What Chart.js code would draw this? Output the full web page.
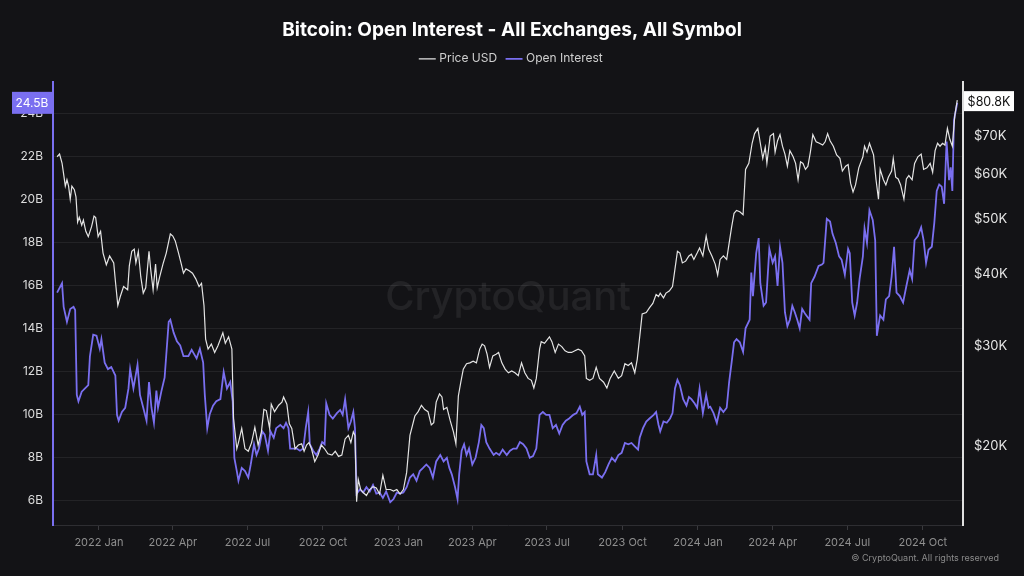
<!DOCTYPE html>
<html>
<head>
<meta charset="utf-8">
<script src="https://cdn.jsdelivr.net/npm/chart.js@4.4.1/dist/chart.umd.min.js"></script>
<style>
  html, body { margin: 0; padding: 0; background: #131316; }
  #wrap { width: 1024px; height: 576px; }
</style>
</head>
<body>
<div id="wrap"><canvas id="oiChart" width="1024" height="576"></canvas></div>
<script>
// Bitcoin open interest vs price
const startDate = "2021-11-10"

// Open interest, billions USD (day offset from startDate)
const oiDays = [1, 7, 9, 13, 17, 21, 23, 25, 27, 31, 35, 39, 41, 45, 49, 53, 55, 59, 63, 67, 72, 74, 76, 80, 84, 88, 90, 94, 99, 102, 106, 110, 113, 116, 119, 122, 124, 128, 132, 137, 139, 143, 147, 151, 155, 161, 165, 171, 175, 179, 181, 184, 187, 191, 195, 200, 204, 208, 212, 215,
  217, 220, 222, 226, 230, 234, 237, 241, 244, 247, 251, 254, 258, 261, 265, 268, 273, 277, 280, 283, 285, 289, 293, 297, 301, 304, 307, 309, 313, 317, 321, 324, 327, 329, 333, 337, 342, 346, 349, 352, 356, 359, 362, 364, 366, 370, 374, 378, 382, 386, 390, 394, 398, 402, 407, 411, 415, 419, 423, 427, 431,
  435, 439, 443, 447, 451, 455, 459, 463, 468, 472, 476, 479, 482, 486, 489, 491, 494, 497, 500, 503, 507, 511, 515, 518, 521, 524, 528, 533, 536, 540, 544, 549, 553, 557, 561, 565, 569, 573, 577, 581, 585, 589, 593, 597, 601, 605, 609, 613, 617, 621, 625, 630, 634, 638, 641, 644, 646, 650,
  654, 658, 660, 665, 669, 673, 677, 681, 685, 689, 693, 697, 701, 705, 709, 711, 715, 719, 723, 728, 731, 734, 736, 740, 744, 748, 751, 754, 757, 760, 764, 768, 771, 774, 778, 781, 784, 788, 792, 795, 797, 801, 805, 809, 813, 817, 820, 823, 826, 829, 833, 837, 840, 845, 847, 849, 853, 856, 858, 862, 865, 869,
  873, 876, 879, 882, 885, 888, 891, 894, 897, 900, 903, 906, 909, 913, 918, 920, 924, 929, 933, 935, 939, 943, 946, 950, 954, 957, 961, 965, 967, 970, 973, 976, 979, 983, 985, 988, 991, 995, 998, 1000, 1004, 1008, 1011, 1015, 1018, 1021, 1024, 1028, 1032, 1036, 1040, 1043, 1046, 1050, 1054, 1057, 1060, 1063, 1067, 1070, 1073, 1076, 1079, 1082, 1085, 1088, 1090, 1092, 1094, 1096, 1098]
const oiValues = [15.66, 16.1, 15.0, 14.3, 14.9, 15.0, 14.85, 10.9, 10.6, 11.05, 11.2, 11.35, 12.7, 13.7, 13.65, 13.05, 13.5, 12.4, 12.1, 12.2, 11.8, 9.97, 9.7, 10.1, 10.3, 11.2, 12.1, 11.2, 12.3, 10.9, 10.3, 9.7, 11.5, 10.3, 9.6, 11.1, 10.3, 11.05, 11.7, 14.3, 14.4, 13.8, 13.4, 13.2, 12.7, 12.7, 13.0, 12.6, 13.05, 12.4, 10.9, 9.35, 10.0, 10.4, 10.6, 10.7, 11.97, 11.2, 11.5, 10.6,
  7.97, 7.35, 6.9, 7.5, 7.35, 7.05, 7.66, 8.6, 8.1, 8.4, 9.2, 9.05, 8.3, 9.2, 8.9, 9.35, 9.5, 9.35, 9.6, 9.35, 8.4, 8.4, 8.4, 8.3, 8.4, 9.35, 10.1, 8.6, 8.3, 8.1, 8.4, 8.7, 8.6, 10.5, 9.97, 9.8, 10.05, 10.2, 9.97, 10.7, 9.35, 9.66, 10.1, 9.35, 6.3, 6.5, 6.35, 6.6, 6.4, 6.7, 6.3, 6.35, 6.1, 6.4, 5.9, 6.05, 6.35, 6.3, 6.35, 6.6, 7.05,
  7.2, 6.9, 7.35, 7.5, 7.66, 7.5, 7.05, 7.8, 8.1, 7.8, 7.97, 7.5, 7.2, 6.6, 6.05, 7.2, 8.3, 8.6, 8.1, 8.4, 7.66, 7.97, 8.7, 9.5, 9.35, 8.7, 8.4, 8.1, 8.2, 8.1, 8.35, 8.1, 8.3, 8.4, 8.4, 8.7, 8.6, 8.4, 7.97, 8.05, 8.4, 9.97, 10.1, 9.97, 9.97, 9.35, 9.5, 9.1, 9.5, 9.7, 9.8, 9.97, 10.05, 10.35, 9.97, 10.1, 7.8, 7.2,
  7.2, 8.1, 7.2, 7.05, 7.3, 7.66, 7.97, 7.8, 8.1, 8.2, 8.66, 8.6, 8.66, 8.5, 8.35, 8.9, 9.35, 9.66, 9.8, 9.97, 10.1, 9.5, 9.2, 9.66, 9.6, 9.8, 10.05, 11.2, 11.6, 11.35, 10.7, 10.4, 10.8, 10.7, 10.5, 10.3, 11.2, 10.05, 10.9, 10.3, 10.35, 10.05, 9.6, 10.3, 10.1, 10.3, 11.5, 12.4, 13.35, 13.5, 13.35, 12.9, 14.0, 14.4, 16.6, 15.5, 17.5, 18.2, 16.1, 15.05, 15.2, 17.7,
  17.05, 17.35, 15.97, 17.8, 17.05, 14.75, 14.1, 14.4, 15.05, 14.75, 14.4, 14.0, 14.9, 14.65, 14.4, 16.1, 16.4, 16.9, 16.97, 17.05, 19.1, 18.97, 18.4, 17.97, 17.35, 17.2, 16.5, 17.7, 17.5, 15.2, 14.6, 15.2, 16.3, 17.35, 18.66, 17.97, 19.5, 19.05, 18.1, 13.65, 14.6, 14.4, 15.35, 15.5, 16.4, 17.8, 15.66, 15.5, 15.2, 15.97, 16.7, 16.3, 18.1, 18.3, 18.7, 18.1, 17.05, 17.66, 17.8, 18.9, 20.4, 20.7, 20.6, 19.8, 22.7, 20.9, 21.5, 20.4, 23.7, 24.1, 24.5]

// BTC price, thousands USD
const priceDays = [1, 4, 7, 9, 11, 13, 15, 17, 19, 22, 24, 26, 28, 31, 33, 36, 39, 43, 46, 48, 51, 54, 57, 61, 65, 70, 72, 75, 78, 82, 87, 89, 92, 95, 97, 100, 103, 106, 109, 113, 115, 118, 121, 123, 126, 130, 134, 139, 142, 145, 149, 152, 155, 158, 162, 166, 170, 174, 177, 180, 182, 185, 189, 193, 197, 203, 206, 210, 214,
  216, 220, 222, 226, 230, 234, 238, 242, 246, 250, 253, 256, 260, 262, 266, 271, 275, 277, 281, 284, 287, 291, 295, 299, 302, 305, 308, 311, 315, 319, 323, 327, 331, 336, 340, 344, 348, 352, 356, 359, 362, 364, 366, 368, 371, 374, 378, 382, 386, 390, 394, 398, 402, 407, 411, 415, 419, 423, 427, 431,
  437, 441, 445, 449, 453, 457, 460, 463, 467, 470, 472, 476, 480, 484, 487, 490, 493, 496, 500, 504, 508, 512, 516, 519, 522, 525, 528, 532, 536, 539, 543, 547, 551, 555, 559, 563, 567, 571, 575, 579, 582, 585, 589, 591, 595, 601, 604, 608, 612, 616, 620, 624, 628, 632, 636, 640, 644, 646, 650,
  654, 658, 662, 667, 671, 675, 680, 685, 689, 693, 697, 701, 705, 708, 711, 714, 719, 723, 727, 731, 734, 736, 740, 743, 747, 751, 754, 757, 760, 763, 767, 771, 774, 777, 781, 784, 788, 792, 795, 799, 803, 806, 809, 813, 817, 820, 823, 826, 829, 833, 837, 840, 844, 848, 851, 855, 858, 861, 864, 866, 870,
  874, 876, 879, 882, 885, 888, 891, 894, 898, 901, 904, 907, 910, 913, 916, 919, 922, 926, 930, 934, 937, 940, 943, 947, 951, 955, 958, 962, 965, 968, 971, 974, 978, 983, 985, 988, 991, 996, 999, 1002, 1004, 1008, 1011, 1014, 1018, 1020, 1023, 1026, 1029, 1033, 1036, 1039, 1043, 1046, 1050, 1054, 1057, 1061, 1065, 1068, 1071, 1074, 1077, 1080, 1083, 1086, 1089, 1092, 1095, 1098]
const priceValues = [64.3, 65.0, 62.7, 59.9, 57.1, 58.6, 57.1, 54.2, 57.1, 56.3, 54.7, 49.4, 50.4, 48.8, 49.8, 47.6, 46.6, 48.5, 50.6, 50.3, 46.6, 47.6, 43.6, 41.6, 43.1, 41.9, 39.0, 35.3, 36.6, 38.1, 37.6, 41.4, 43.9, 44.3, 41.9, 43.9, 39.6, 37.1, 37.9, 43.9, 40.9, 37.6, 41.7, 37.9, 39.6, 41.7, 43.6, 47.1, 46.7, 45.8, 43.6, 41.9, 40.2, 40.9, 40.6, 40.2, 39.3, 38.1, 38.6, 35.3, 30.8, 29.6, 30.2, 29.2, 30.0, 31.6, 30.3, 31.1, 29.6,
  22.4, 19.8, 20.3, 21.5, 19.8, 19.6, 20.3, 21.6, 20.1, 21.2, 23.2, 23.1, 21.5, 23.7, 23.0, 23.6, 23.9, 24.4, 23.7, 21.9, 21.5, 19.8, 20.1, 20.2, 19.6, 20.1, 20.3, 19.8, 18.8, 19.3, 20.1, 19.8, 19.4, 19.3, 19.6, 19.2, 19.3, 20.6, 20.9, 20.3, 21.2, 20.9, 16.0, 17.5, 16.8, 16.6, 16.4, 16.8, 17.0, 16.9, 16.5, 17.8, 16.8, 16.8, 16.7, 16.8, 16.5, 16.8, 18.0, 20.9,
  22.6, 23.0, 23.6, 23.2, 23.0, 21.8, 22.0, 23.9, 24.7, 24.4, 23.2, 23.4, 22.2, 21.2, 20.2, 24.5, 25.9, 27.3, 27.9, 28.0, 28.2, 28.0, 29.6, 30.2, 30.0, 29.0, 27.5, 28.8, 29.0, 29.2, 28.0, 27.3, 26.9, 27.1, 26.9, 26.6, 28.0, 26.9, 26.3, 26.1, 25.3, 26.3, 29.6, 30.5, 30.3, 31.1, 30.5, 29.2, 30.2, 29.9, 29.4, 29.2, 29.2, 29.4, 29.6, 29.4, 28.8, 26.3, 26.1,
  26.3, 27.5, 26.3, 25.9, 25.3, 26.3, 27.1, 26.3, 26.6, 27.9, 27.7, 28.0, 26.9, 28.4, 31.1, 34.1, 34.3, 35.0, 35.6, 36.9, 36.6, 37.1, 36.4, 37.1, 37.4, 38.1, 40.9, 43.9, 43.6, 41.9, 42.2, 43.1, 43.4, 42.5, 43.6, 44.5, 43.1, 46.7, 44.3, 43.1, 41.7, 39.9, 42.5, 43.1, 42.5, 45.4, 48.4, 51.2, 51.8, 51.5, 50.9, 61.1, 62.6, 67.9, 70.6, 72.1, 67.9, 63.9, 66.8, 62.6, 69.9,
  70.6, 65.5, 68.6, 70.3, 67.1, 65.0, 61.9, 65.9, 64.3, 62.6, 58.6, 63.0, 62.6, 61.1, 61.9, 65.5, 70.3, 68.3, 67.9, 67.4, 68.3, 70.6, 68.6, 67.1, 64.8, 63.9, 60.7, 61.9, 62.3, 57.8, 55.8, 57.4, 61.5, 64.3, 67.1, 65.5, 67.9, 64.8, 58.6, 54.2, 61.1, 58.6, 57.4, 59.2, 60.7, 63.9, 59.2, 58.8, 57.4, 54.2, 58.8, 59.6, 58.6, 62.6, 64.3, 65.0, 61.1, 61.5, 62.6, 60.4, 65.9, 67.9, 67.1, 67.9, 67.4, 72.1, 69.0, 67.1, 75.9, 80.8]

const tickDates = ["2022-01-01", "2022-04-01", "2022-07-01", "2022-10-01", "2023-01-01", "2023-04-01", "2023-07-01", "2023-10-01", "2024-01-01", "2024-04-01", "2024-07-01", "2024-10-01"]
const tickLabels = ["2022 Jan", "2022 Apr", "2022 Jul", "2022 Oct", "2023 Jan", "2023 Apr", "2023 Jul", "2023 Oct", "2024 Jan", "2024 Apr", "2024 Jul", "2024 Oct"]
const oiTicks = [6, 8, 10, 12, 14, 16, 18, 20, 22, 24]
const priceTicks = [20, 30, 40, 50, 60, 70]

const OI_COLOR = "#7a6ff0"
const PRICE_COLOR = "#e4e4e4"

function dayOffset(dateStr) {
  return (Date.parse(dateStr) - Date.parse(startDate)) / 86400000
}

function toPoints(days, values) {
  return days.map((d, i) => ({ x: d, y: values[i] }))
}

const tickDays = tickDates.map(dayOffset)

// watermark, last-value badges and footer
const decorPlugin = {
  id: "decor",
  beforeInit(chart) {
    const fit = chart.legend.fit
    chart.legend.fit = function () {
      fit.bind(chart.legend)()
      this.height += 7
    }
  },
  beforeDatasetsDraw(chart) {
    const { ctx, chartArea } = chart
    ctx.save()
    ctx.font = "500 40px Inter, 'Noto Sans', sans-serif"
    ctx.fillStyle = "rgba(255,255,255,0.07)"
    ctx.textAlign = "center"
    ctx.textBaseline = "middle"
    ctx.fillText("CryptoQuant", (chartArea.left + chartArea.right) / 2, 298)
    ctx.restore()
  },
  afterDraw(chart) {
    const { ctx, chartArea, scales } = chart
    ctx.save()
    ctx.font = "12px Inter, 'Noto Sans', sans-serif"
    ctx.textAlign = "center"
    ctx.textBaseline = "middle"

    const lastOi = oiValues[oiValues.length - 1]
    const yOi = scales.yOI.getPixelForValue(lastOi)
    ctx.fillStyle = OI_COLOR
    ctx.fillRect(chartArea.left - 41, yOi - 11, 40, 22)
    ctx.fillStyle = "#ffffff"
    ctx.fillText(lastOi + "B", chartArea.left - 21, yOi + 1)

    const lastPrice = priceValues[priceValues.length - 1]
    const yP = scales.yPrice.getPixelForValue(lastPrice)
    ctx.fillStyle = "#ffffff"
    ctx.fillRect(chartArea.right + 1, yP - 9, 50, 20)
    ctx.fillStyle = "#111111"
    ctx.font = "12.5px Inter, 'Noto Sans', sans-serif"
    ctx.fillText("$" + lastPrice + "K", chartArea.right + 26, yP + 2)

    ctx.font = "9px Inter, 'Noto Sans', sans-serif"
    ctx.fillStyle = "#8a8a8a"
    ctx.textAlign = "right"
    ctx.fillText("\u00a9 CryptoQuant. All rights reserved", 999, 558)
    ctx.restore()
  },
}

Chart.defaults.font.family = "Inter, 'Noto Sans', sans-serif"
Chart.defaults.color = "#cfcfcf"

new Chart(document.getElementById("oiChart"), {
  type: "line",
  data: {
    datasets: [
      {
        label: "Price USD",
        data: toPoints(priceDays, priceValues),
        yAxisID: "yPrice",
        borderColor: PRICE_COLOR,
        borderWidth: 1.2,
        pointRadius: 0,
        tension: 0,
      },
      {
        label: "Open Interest",
        data: toPoints(oiDays, oiValues),
        yAxisID: "yOI",
        borderColor: OI_COLOR,
        borderWidth: 1.8,
        pointRadius: 0,
        tension: 0,
      },
    ],
  },
  options: {
    responsive: false,
    animation: false,
    devicePixelRatio: 1,
    layout: { padding: 0 },
    plugins: {
      title: {
        display: true,
        text: "Bitcoin: Open Interest - All Exchanges, All Symbol",
        color: "#ffffff",
        font: { size: 19, weight: "bold" },
        padding: { top: 19, bottom: 0 },
      },
      legend: {
        labels: {
          color: "#cfcfcf",
          font: { size: 12 },
          usePointStyle: true,
          pointStyle: "line",
          padding: 11,
        },
      },
      tooltip: { enabled: false },
    },
    scales: {
      x: {
        type: "linear",
        min: -4,
        max: 1105,
        afterBuildTicks: (scale) => {
          scale.ticks = tickDays.map((v) => ({ value: v }))
        },
        afterFit: (scale) => {
          scale.height = 51
        },
        ticks: {
          color: "#8f8f8f",
          font: { size: 11 },
          maxRotation: 0,
          autoSkip: false,
          padding: 6,
          callback: (v, i) => tickLabels[i],
        },
        grid: { drawOnChartArea: false, color: "#3a3a3e", tickLength: 5 },
        border: { color: "#2e2e32" },
      },
      yOI: {
        type: "linear",
        position: "left",
        min: 4.84,
        max: 25.48,
        afterBuildTicks: (scale) => {
          scale.ticks = oiTicks.map((v) => ({ value: v }))
        },
        afterFit: (scale) => {
          scale.width = 53
        },
        ticks: {
          color: "#dcdcdc",
          font: { size: 12 },
          padding: 10,
          callback: (v) => v + "B",
        },
        grid: { color: "rgba(255,255,255,0.07)", drawTicks: false },
        border: { color: OI_COLOR, width: 2 },
      },
      yPrice: {
        type: "logarithmic",
        position: "right",
        min: 14.56,
        max: 87.0,
        afterBuildTicks: (scale) => {
          scale.ticks = priceTicks.map((v) => ({ value: v }))
        },
        afterFit: (scale) => {
          scale.width = 61
        },
        ticks: {
          color: "#e6e6e6",
          font: { size: 13 },
          padding: 11,
          callback: (v) => "$" + v + "K",
        },
        grid: { drawOnChartArea: false, drawTicks: false },
        border: { color: "#e0e0e0", width: 2 },
      },
    },
  },
  plugins: [decorPlugin],
})
</script>
</body>
</html>
